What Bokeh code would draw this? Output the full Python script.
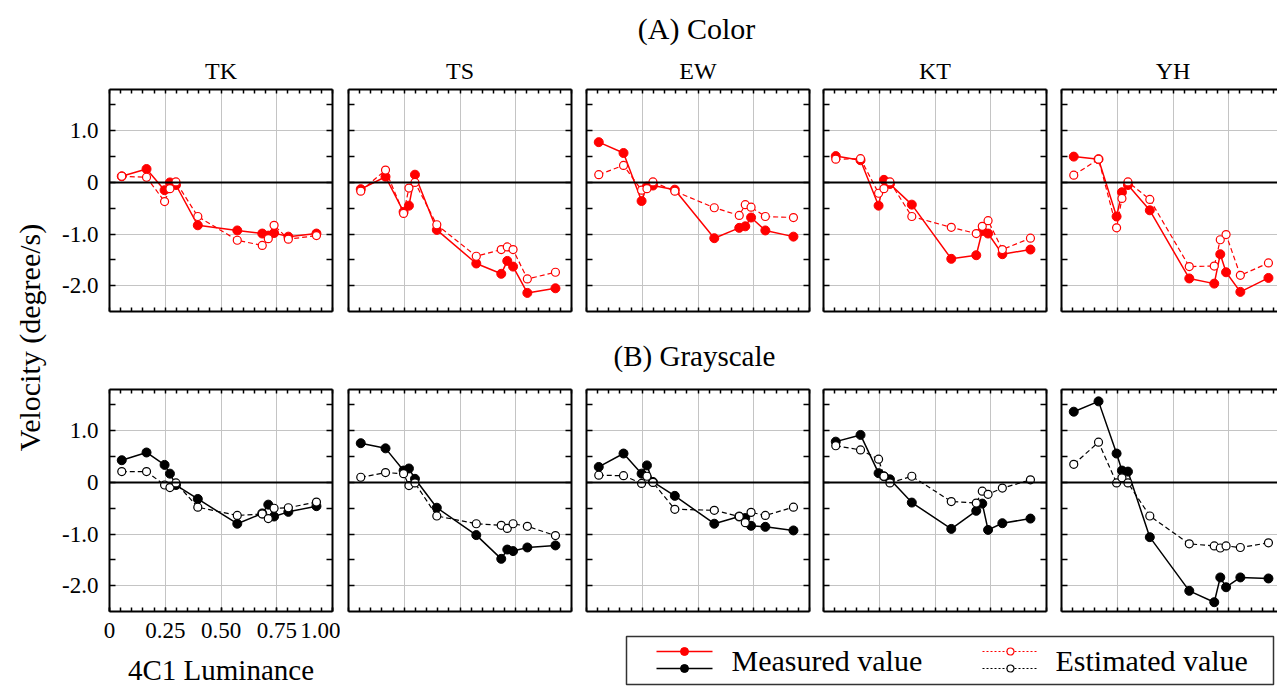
import math
from bokeh.plotting import figure
from bokeh.layouts import row, column
from bokeh.models import Range1d, LinearAxis, FixedTicker, Span, Grid
from bokeh.embed import file_html
from bokeh.resources import INLINE
from bokeh.core.properties import value

FONT = "Liberation Serif"

# ---------------- data ----------------
luminance = [0.055, 0.166, 0.247, 0.271, 0.298, 0.396, 0.573, 0.685, 0.712, 0.738, 0.802, 0.928]
subjects = ["TK", "TS", "EW", "KT", "YH"]

# (A) Color
tk_color_measured = [0.12, 0.26, -0.15, 0.00, -0.05, -0.83, -0.93, -0.99, -1.03, -0.98, -1.05, -0.99]
tk_color_estimated = [0.12, 0.10, -0.37, -0.12, 0.01, -0.66, -1.12, -1.22, -1.09, -0.83, -1.10, -1.03]
ts_color_measured = [-0.13, 0.11, -0.57, -0.45, 0.15, -0.92, -1.57, -1.77, -1.52, -1.63, -2.14, -2.05]
ts_color_estimated = [-0.17, 0.24, -0.60, -0.11, 0.00, -0.82, -1.43, -1.30, -1.25, -1.30, -1.87, -1.74]
ew_color_measured = [0.78, 0.57, -0.36, -0.08, -0.06, -0.14, -1.08, -0.88, -0.85, -0.68, -0.93, -1.05]
ew_color_estimated = [0.15, 0.33, -0.15, -0.12, 0.01, -0.17, -0.49, -0.64, -0.43, -0.48, -0.66, -0.68]
kt_color_measured = [0.51, 0.43, -0.45, 0.05, -0.03, -0.43, -1.48, -1.41, -0.94, -0.99, -1.39, -1.30]
kt_color_estimated = [0.45, 0.46, -0.21, -0.12, 0.01, -0.66, -0.87, -0.99, -0.85, -0.74, -1.30, -1.08]
yh_color_measured = [0.50, 0.45, -0.66, -0.19, -0.05, -0.54, -1.86, -1.96, -1.39, -1.74, -2.12, -1.85]
yh_color_estimated = [0.14, 0.45, -0.88, -0.31, 0.01, -0.33, -1.63, -1.62, -1.11, -1.01, -1.80, -1.56]

# (B) Grayscale
tk_gray_measured = [0.43, 0.58, 0.34, 0.17, -0.05, -0.32, -0.80, -0.60, -0.43, -0.66, -0.57, -0.46]
tk_gray_estimated = [0.21, 0.21, -0.05, -0.10, -0.01, -0.48, -0.64, -0.61, -0.70, -0.50, -0.49, -0.38]
ts_gray_measured = [0.76, 0.66, 0.23, 0.27, 0.07, -0.49, -1.02, -1.48, -1.30, -1.33, -1.26, -1.22]
ts_gray_estimated = [0.10, 0.19, 0.17, -0.06, -0.01, -0.65, -0.80, -0.83, -0.89, -0.80, -0.85, -1.03]
ew_gray_measured = [0.30, 0.56, 0.17, 0.33, 0.01, -0.26, -0.80, -0.66, -0.69, -0.84, -0.86, -0.93]
ew_gray_estimated = [0.14, 0.13, -0.02, 0.12, 0.00, -0.52, -0.54, -0.66, -0.78, -0.58, -0.64, -0.48]
kt_gray_measured = [0.79, 0.92, 0.18, 0.12, 0.06, -0.39, -0.90, -0.55, -0.41, -0.92, -0.79, -0.70]
kt_gray_estimated = [0.71, 0.63, 0.45, 0.12, -0.01, 0.12, -0.37, -0.40, -0.17, -0.23, -0.11, 0.05]
yh_gray_measured = [1.37, 1.57, 0.56, 0.23, 0.21, -1.06, -2.10, -2.32, -1.84, -2.03, -1.84, -1.86]
yh_gray_estimated = [0.35, 0.78, -0.01, 0.09, -0.01, -0.65, -1.19, -1.23, -1.27, -1.23, -1.26, -1.17]

color_rows = [(tk_color_measured, tk_color_estimated), (ts_color_measured, ts_color_estimated),
              (ew_color_measured, ew_color_estimated), (kt_color_measured, kt_color_estimated),
              (yh_color_measured, yh_color_estimated)]
gray_rows = [(tk_gray_measured, tk_gray_estimated), (ts_gray_measured, ts_gray_estimated),
             (ew_gray_measured, ew_gray_estimated), (kt_gray_measured, kt_gray_estimated),
             (yh_gray_measured, yh_gray_estimated)]

y_ticks = [1, 0, -1, -2]
y_minor = [1.5, 0.5, -0.5, -1.5]
y_tick_labels = {1: "1.0", 0: "0", -1: "-1.0", -2: "-2.0"}
x_ticks = [0, 0.25, 0.5, 0.75, 1.0]
x_minor = [round(0.05 * i, 2) for i in range(21)]
x_tick_labels = {0: "0", 0.25: "0.25", 0.5: "0.50", 0.75: "0.75", 1: "1.00"}

# ---------------- layout constants ----------------
Y0, Y1 = -2.5, 1.8
FW = 223          # frame width for full 0..1 range
FH = 222
lb = [53, 8, 8, 7, 8]
rb = [8, 7, 7, 7, 0]
fws = [223, 223, 223, 223, 216]
TICK_FS = "23px"
BIG_FS = "30px"


def make_axis(kind, labels=None, axis_label=None):
    if kind in ("left", "right"):
        major, minor, tl = y_ticks, y_minor, 6
    else:
        major, minor, tl = x_ticks, x_minor, 4
    if labels:
        t = FixedTicker(ticks=major, minor_ticks=minor)
    else:
        t = FixedTicker(ticks=[], minor_ticks=sorted(set(major) | set(minor)))
    ax = LinearAxis(ticker=t)
    ax.axis_line_color = "black"
    ax.axis_line_width = 2
    ax.major_tick_in = tl
    ax.major_tick_out = 0
    ax.minor_tick_in = tl
    ax.minor_tick_out = 0
    ax.major_tick_line_color = "black"
    ax.minor_tick_line_color = "black"
    ax.major_tick_line_width = 1.5
    ax.minor_tick_line_width = 1.5
    if labels:
        ax.major_label_overrides = labels
        ax.major_label_text_font = FONT
        ax.major_label_text_font_size = TICK_FS
        ax.major_label_text_color = "black"
        ax.major_label_standoff = 11
    else:
        ax.major_label_standoff = 0
    if axis_label:
        ax.axis_label = axis_label
        ax.axis_label_text_font = FONT
        ax.axis_label_text_font_size = "29px"
        ax.axis_label_text_font_style = "normal"
        ax.axis_label_text_color = "black"
        ax.axis_label_standoff = 13
    return ax


def make_panel(ci, meas, est, color, row_idx):
    top_b = 4
    bot_b = 78 if (row_idx == 1 and ci == 0) else 4
    p = figure(width=lb[ci] + fws[ci] + rb[ci], height=top_b + FH + bot_b,
               x_range=Range1d(0, fws[ci] / FW), y_range=Range1d(Y0, Y1),
               output_backend="svg", toolbar_location=None,
               x_axis_location=None, y_axis_location=None,
               min_border_left=lb[ci], min_border_right=rb[ci],
               min_border_top=top_b, min_border_bottom=bot_b)
    p.outline_line_color = None
    p.grid.visible = False
    p.background_fill_color = "white"
    p.border_fill_color = "white"

    p.add_layout(Grid(dimension=0, ticker=FixedTicker(ticks=[0.25, 0.5, 0.75]),
                      grid_line_color="#c4c4c4", grid_line_width=1))
    p.add_layout(Grid(dimension=1, ticker=FixedTicker(ticks=[1, -1, -2]),
                      grid_line_color="#c4c4c4", grid_line_width=1))
    p.add_layout(Span(location=0, dimension="width", line_color="black", line_width=2))

    p.add_layout(make_axis("left", y_tick_labels if ci == 0 else None), "left")
    if ci < 4:
        p.add_layout(make_axis("right"), "right")
    p.add_layout(make_axis("above"), "above")
    if row_idx == 1 and ci == 0:
        p.add_layout(make_axis("below", x_tick_labels, "4C1 Luminance"), "below")
    else:
        p.add_layout(make_axis("below"), "below")

    p.line(luminance, meas, line_color=color, line_width=1.5)
    p.scatter(luminance, meas, size=9, fill_color=color, line_color=color)
    p.line(luminance, est, line_color=color, line_width=1.2, line_dash="5 3")
    p.scatter(luminance, est, size=8, fill_color="white", line_color=color, line_width=1.2)
    return p


def text_fig(x0, x1, y0, y1):
    p = figure(width=x1 - x0, height=y1 - y0, x_range=Range1d(x0, x1), y_range=Range1d(y1, y0),
               output_backend="svg", toolbar_location=None,
               x_axis_location=None, y_axis_location=None, min_border=0)
    p.outline_line_color = None
    p.grid.visible = False
    p.background_fill_color = "white"
    p.border_fill_color = "white"
    return p


def put_text(p, x, y, s, size, align="center", angle=0):
    p.text(x=[x], y=[y], text=[s], text_font=value(FONT), text_font_size=size,
           text_align=align, text_baseline="middle", text_color="black", angle=angle)


# headers
hdrA = text_fig(56, 1277, 0, 85)
put_text(hdrA, 696, 28, "(A) Color", "30px")
centers = [109 + 111.5, 348 + 111.5, 586 + 111.5, 823 + 111.5, 1061 + 111.5]
for cx, name in zip(centers, subjects):
    put_text(hdrA, cx, 70, name, "24px")

hdrB = text_fig(56, 1277, 315, 385)
put_text(hdrB, 694, 355, "(B) Grayscale", "29px")

strip = text_fig(0, 56, 0, 689)
put_text(strip, 29, 337, "Velocity (degree/s)", BIG_FS, angle=math.pi / 2)

row1 = [make_panel(i, m, e, "#ff0000", 0) for i, (m, e) in enumerate(color_rows)]
row2 = [make_panel(i, m, e, "black", 1) for i, (m, e) in enumerate(gray_rows)]

# legend (manual, two-column with stacked samples)
leg = text_fig(340, 1277, 615, 689)
leg.quad(left=[626], right=[1273], top=[636], bottom=[684], fill_color=None,
         line_color="#333333", line_width=1.5)
for yy, c in ((651, "#ff0000"), (668, "black")):
    leg.line([656, 712], [yy, yy], line_color=c, line_width=1.5)
    leg.scatter([684], [yy], size=8, fill_color=c, line_color=c)
    leg.line([982, 1038], [yy, yy], line_color=c, line_width=1.2, line_dash="2 2")
    leg.scatter([1010], [yy], size=7, fill_color="white", line_color=c, line_width=1.2)
put_text(leg, 731, 660, "Measured value", BIG_FS, align="left")
put_text(leg, 1055, 660, "Estimated value", BIG_FS, align="left")

main = column(hdrA, row(*row1), hdrB,
              row(row2[0], column(row(*row2[1:]), leg)))
layout = row(strip, main)

open("out.html", "w").write(file_html(layout, INLINE))
